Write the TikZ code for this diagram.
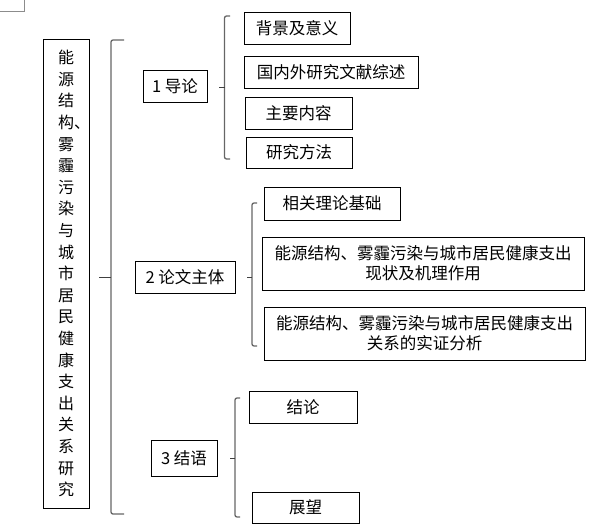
\documentclass[tikz,border=0pt]{standalone}
\usepackage{fontspec}
\newfontfamily\cjk{Noto Sans CJK SC}
\begin{document}
\begin{tikzpicture}[x=1pt,y=-1pt,
  box/.style={draw=black,line width=0.8pt,inner sep=0pt,align=center,font=\cjk\fontsize{16.5}{20}\selectfont},
  brk/.style={draw=black!60,line width=1.3pt,rounded corners=2pt},
  tick/.style={draw=black!75,line width=1pt}]
\useasboundingbox (0,0) rectangle (597,532);
% small gray mark at top left
\draw[black!45,line width=0.8pt] (0,11) -- (24,11) -- (24,0);
% main box
\node[box,minimum width=46pt,minimum height=469pt,font=\cjk\fontsize{16}{21.6}\selectfont] (main) at (66,273.5)
 {能\\源\\结\\构\rlap{、}\\雾\\霾\\污\\染\\与\\城\\市\\居\\民\\健\\康\\支\\出\\关\\系\\研\\究};
% level 1
\node[box,minimum width=64pt,minimum height=32pt] (b1) at (175,86) {1 导论};
\node[box,minimum width=100pt,minimum height=32pt] (b2) at (185,277) {2 论文主体};
\node[box,minimum width=66pt,minimum height=36pt] (b3) at (184,458) {3 结语};
% level 2
\node[box,minimum width=106pt,minimum height=32pt] (c11) at (297,28) {背景及意义};
\node[box,minimum width=174pt,minimum height=32pt] (c12) at (331,72) {国内外研究文献综述};
\node[box,minimum width=107pt,minimum height=32pt] (c13) at (298.5,113) {主要内容};
\node[box,minimum width=106pt,minimum height=31pt] (c14) at (299,152.5) {研究方法};
\node[box,minimum width=136pt,minimum height=33pt] (c21) at (332,203.5) {相关理论基础};
\node[box,minimum width=322pt,minimum height=53pt] (c22) at (423,263.5) {能源结构、雾霾污染与城市居民健康支出\\现状及机理作用};
\node[box,minimum width=321pt,minimum height=53pt] (c23) at (424.5,333.5) {能源结构、雾霾污染与城市居民健康支出\\关系的实证分析};
\node[box,minimum width=108pt,minimum height=32pt] (c31) at (303,407) {结论};
\node[box,minimum width=107pt,minimum height=31pt] (c32) at (305.5,507.5) {展望};
% bracket coordinates
\coordinate (k0a) at (124,40);  \coordinate (k0b) at (111,40);
\coordinate (k0c) at (111,514); \coordinate (k0d) at (124,514);
\coordinate (k0m) at (111,277); \coordinate (k0l) at (99,277);
\coordinate (k1a) at (230,16);  \coordinate (k1b) at (224.5,16);
\coordinate (k1c) at (224.5,159); \coordinate (k1d) at (230,159);
\coordinate (k1m) at (224.5,88); \coordinate (k1l) at (219,88);
\coordinate (k2a) at (257,203); \coordinate (k2b) at (252,203);
\coordinate (k2c) at (252,346); \coordinate (k2d) at (257,346);
\coordinate (k2m) at (252,277); \coordinate (k2l) at (247,277);
\coordinate (k3a) at (240,398); \coordinate (k3b) at (235,398);
\coordinate (k3c) at (235,517); \coordinate (k3d) at (240,517);
\coordinate (k3m) at (235,458); \coordinate (k3l) at (230,458);
% brackets
\foreach \k in {k0,k1,k2,k3}{
  \draw[brk] (\k a) -- (\k b) -- (\k c) -- (\k d);
  \draw[tick] (\k m) -- (\k l);
}
\end{tikzpicture}
\end{document}
